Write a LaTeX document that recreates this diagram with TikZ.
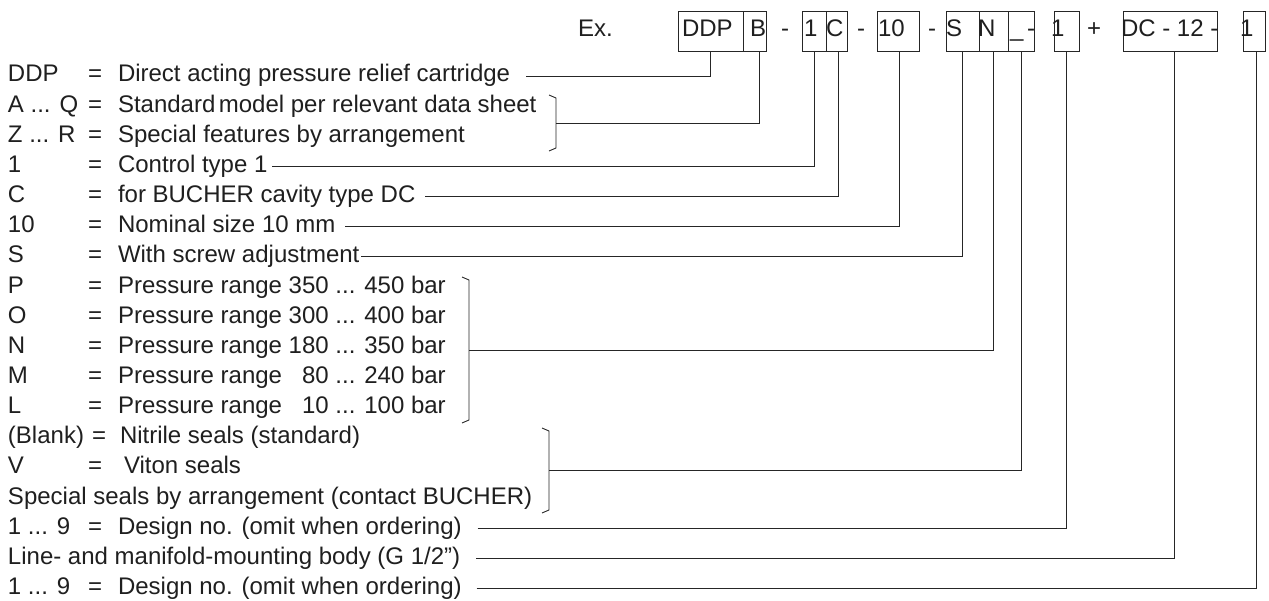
\documentclass[tikz,border=0pt]{standalone}
\usepackage{fontspec}
\setmainfont{Liberation Sans}
\begin{document}
\begin{tikzpicture}[x=1pt,y=-1pt,
  txt/.style={anchor=base west,inner sep=0pt,outer sep=0pt,text=black!88,font=\fontsize{24}{28}\selectfont},
  btxt/.style={anchor=base west,inner sep=0pt,outer sep=0pt,text=black!88,font=\fontsize{24}{28}\selectfont},
  cell/.style={draw=black!85,line width=1pt,minimum height=40pt,inner sep=0pt,outer sep=0pt},
  conn/.style={draw=black!85,line width=0.9pt},
  brk/.style={draw=black!85,line width=0.9pt,line join=miter}]
\fill[white] (0,0) rectangle (1269,601);
\useasboundingbox (0,0) rectangle (1269,601);

% ---- code boxes ----
\node[cell,minimum width=65pt] (cDDP) at (710.5,32) {};
\node[cell,minimum width=23pt] (cB) at (754.5,32) {};
\node[cell,minimum width=24pt] (c1) at (814,32) {};
\node[cell,minimum width=21pt] (cC) at (836.5,32) {};
\node[cell,minimum width=42pt] (c10) at (898,32) {};
\node[cell,minimum width=33pt] (cS) at (962.5,32) {};
\node[cell,minimum width=29pt] (cN) at (993.5,32) {};
\node[cell,minimum width=26pt] (cU) at (1021,32) {};
\node[cell,minimum width=25pt] (cD) at (1066.5,32) {};
\node[cell,minimum width=94pt] (cDC) at (1170,32) {};
\node[cell,minimum width=22pt] (cL) at (1254,32) {};

% ---- texts of the code line ----
\node[btxt] (tEx) at (578,37) {Ex.};
\node[btxt] (tDDP) at (682,37) {DDP};
\node[btxt] (tB) at (750,37) {B};
\node[btxt] (h1) at (781,37) {-};
\node[btxt] (t1) at (804,37) {1};
\node[btxt] (tC) at (826,37) {C};
\node[btxt] (h2) at (857,37) {-};
\node[btxt] (t10) at (878,37) {10};
\node[btxt] (h3) at (928,37) {-};
\node[btxt] (tS) at (946,37) {S};
\node[btxt] (tN) at (978,37) {N};
\node[btxt] (tU) at (1010,37) {\_};
\node[btxt] (h4) at (1027,37) {-};
\node[btxt] (tD) at (1051,37) {1};
\node[btxt] (tP) at (1087,37) {+};
\node[btxt] (tDC) at (1121,37) {DC - 12 -};
\node[btxt] (tL) at (1240,37) {1};

% ---- legend rows ----
\node[txt] (k0) at (8,82.0) {DDP};
\node[txt] (e0) at (88,82.0) {=};
\node[txt] (d0) at (118,82.0) {Direct acting pressure relief cartridge};

\node[txt] (k1) at (8,112.15) {A ... Q};
\node[txt] (e1) at (88,112.15) {=};
\node[txt] (d1) at (118,112.15) {Standard\hspace{3.5pt}model per relevant data sheet};

\node[txt] (k2) at (8,142.3) {Z ... R};
\node[txt] (e2) at (88,142.3) {=};
\node[txt] (d2) at (118,142.3) {Special features by arrangement};

\node[txt] (k3) at (8,172.45) {1};
\node[txt] (e3) at (88,172.45) {=};
\node[txt] (d3) at (118,172.45) {Control type 1};

\node[txt] (k4) at (8,202.6) {C};
\node[txt] (e4) at (88,202.6) {=};
\node[txt] (d4) at (118,202.6) {for BUCHER cavity type DC};

\node[txt] (k5) at (8,232.75) {10};
\node[txt] (e5) at (88,232.75) {=};
\node[txt] (d5) at (118,232.75) {Nominal size 10 mm};

\node[txt] (k6) at (8,262.9) {S};
\node[txt] (e6) at (88,262.9) {=};
\node[txt] (d6) at (118,262.9) {With screw adjustment};

\node[txt] (k7) at (8,293.05) {P};
\node[txt] (e7) at (88,293.05) {=};
\node[txt] (d7) at (118,293.05) {Pressure range 350 ... 450 bar};

\node[txt] (k8) at (8,323.2) {O};
\node[txt] (e8) at (88,323.2) {=};
\node[txt] (d8) at (118,323.2) {Pressure range 300 ... 400 bar};

\node[txt] (k9) at (8,353.35) {N};
\node[txt] (e9) at (88,353.35) {=};
\node[txt] (d9) at (118,353.35) {Pressure range 180 ... 350 bar};

\node[txt] (k10) at (8,383.5) {M};
\node[txt] (e10) at (88,383.5) {=};
\node[txt] (d10) at (118,383.5) {Pressure range \hphantom{0}80 ... 240 bar};

\node[txt] (k11) at (8,413.65) {L};
\node[txt] (e11) at (88,413.65) {=};
\node[txt] (d11) at (118,413.65) {Pressure range \hphantom{0}10 ... 100 bar};

\node[txt] (k12) at (8,443.8) {(Blank)};
\node[txt] (e12) at (92,443.8) {=};
\node[txt] (d12) at (120,443.8) {Nitrile seals (standard)};

\node[txt] (k13) at (8,473.95) {V};
\node[txt] (e13) at (88,473.95) {=};
\node[txt] (d13) at (124,473.95) {Viton seals};

\node[txt] (f14) at (8,504.1) {Special seals by arrangement (contact BUCHER)};

\node[txt] (k15) at (8,534.25) {1 ... 9};
\node[txt] (e15) at (88,534.25) {=};
\node[txt] (d15) at (118,534.25) {Design no. (omit when ordering)};

\node[txt] (f16) at (8,564.4) {Line- and manifold-mounting body (G 1/2”)};

\node[txt] (k17) at (8,594.55) {1 ... 9};
\node[txt] (e17) at (88,594.55) {=};
\node[txt] (d17) at (118,594.55) {Design no. (omit when ordering)};

% ---- brackets ----
\draw[brk] (549,95) -- (556,98) -- (556,148) -- (549,151);
\coordinate (m1) at (556,123.5);
\draw[brk] (462,277) -- (469,280) -- (469,420) -- (462,423);
\coordinate (m2) at (469,350);
\draw[brk] (542,428) -- (549,431) -- (549,510) -- (542,513);
\coordinate (m3) at (549,470.5);

% ---- connectors ----
\draw[conn] ([xshift=16pt,yshift=6pt]d0.base east) -| (cDDP.south);
\draw[conn] (m1) -| ([xshift=4.5pt]cB.south);
\draw[conn] ([xshift=5pt,yshift=6pt]d3.base east) -| (c1.south);
\draw[conn] ([xshift=10pt,yshift=6pt]d4.base east) -| ([xshift=1.5pt]cC.south);
\draw[conn] ([xshift=10pt,yshift=6pt]d5.base east) -| ([xshift=1pt]c10.south);
\draw[conn] ([xshift=2pt,yshift=6pt]d6.base east) -| (cS.south);
\draw[conn] (m2) -| (cN.south);
\draw[conn] (m3) -| (cU.south);
\draw[conn] ([xshift=16pt,yshift=6pt]d15.base east) -| (cD.south);
\draw[conn] ([xshift=16pt,yshift=6pt]f16.base east) -| ([xshift=4pt]cDC.south);
\draw[conn] ([xshift=15pt,yshift=6pt]d17.base east) -| ([xshift=2pt]cL.south);
\end{tikzpicture}
\end{document}
